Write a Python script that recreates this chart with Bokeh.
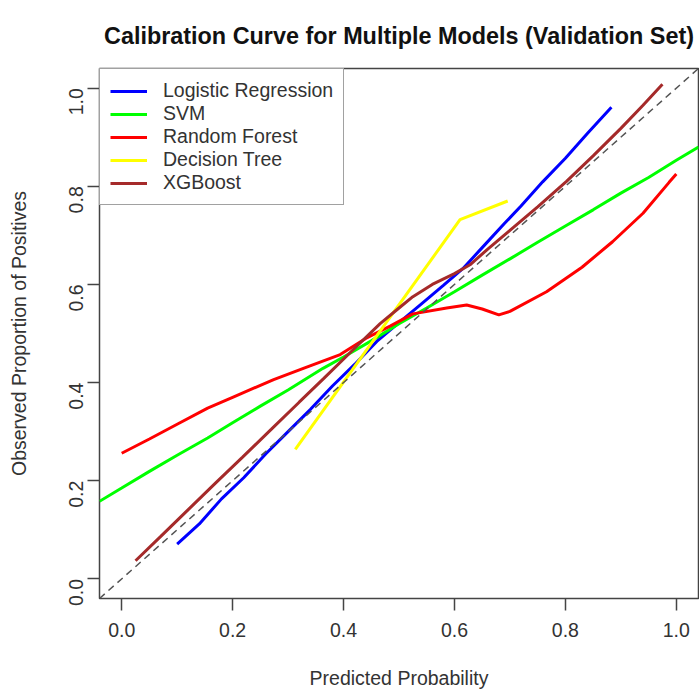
import math
from bokeh.plotting import figure
from bokeh.models import FixedTicker, PrintfTickFormatter, Slope, Legend, LegendItem
from bokeh.embed import file_html
from bokeh.resources import INLINE

# ---- data ----
lr_x = [0.10, 0.14, 0.18, 0.22, 0.26, 0.30, 0.34, 0.38, 0.42, 0.46, 0.50, 0.54, 0.58, 0.615, 0.65, 0.69, 0.72, 0.759, 0.80, 0.84, 0.883]
lr_y = [0.071, 0.112, 0.163, 0.206, 0.255, 0.300, 0.345, 0.393, 0.437, 0.484, 0.522, 0.560, 0.598, 0.632, 0.675, 0.724, 0.760, 0.809, 0.857, 0.908, 0.961]

svm_x = [-0.04, 0.0, 0.05, 0.10, 0.155, 0.20, 0.25, 0.30, 0.363, 0.40, 0.45, 0.50, 0.55, 0.60, 0.65, 0.70, 0.75, 0.80, 0.85, 0.90, 0.95, 1.0, 1.04]
svm_y = [0.158, 0.185, 0.219, 0.252, 0.287, 0.318, 0.352, 0.385, 0.429, 0.452, 0.485, 0.520, 0.552, 0.585, 0.619, 0.652, 0.686, 0.719, 0.752, 0.786, 0.818, 0.853, 0.880]

rf_x = [0.0, 0.05, 0.10, 0.155, 0.20, 0.274, 0.33, 0.394, 0.44, 0.484, 0.525, 0.586, 0.622, 0.65, 0.68, 0.70, 0.766, 0.83, 0.885, 0.94, 0.987, 1.0]
rf_y = [0.256, 0.285, 0.315, 0.348, 0.370, 0.406, 0.430, 0.457, 0.490, 0.515, 0.540, 0.552, 0.558, 0.550, 0.538, 0.545, 0.585, 0.635, 0.687, 0.745, 0.808, 0.825]

dt_x = [0.313, 0.61, 0.696]
dt_y = [0.264, 0.732, 0.770]

xgb_x = [0.025, 0.07, 0.12, 0.17, 0.218, 0.27, 0.32, 0.364, 0.42, 0.466, 0.50, 0.525, 0.56, 0.60, 0.628, 0.66, 0.70, 0.75, 0.802, 0.85, 0.90, 0.94, 0.975]
xgb_y = [0.037, 0.086, 0.141, 0.196, 0.248, 0.305, 0.360, 0.408, 0.470, 0.520, 0.552, 0.575, 0.600, 0.622, 0.640, 0.672, 0.710, 0.758, 0.810, 0.862, 0.918, 0.965, 1.008]

series = [
    ("Logistic Regression", lr_x, lr_y, "#0000FF"),
    ("SVM", svm_x, svm_y, "#00FF00"),
    ("Random Forest", rf_x, rf_y, "#FF0000"),
    ("Decision Tree", dt_x, dt_y, "#FFFF00"),
    ("XGBoost", xgb_x, xgb_y, "#A52A2A"),
]
ticks = [0.0, 0.2, 0.4, 0.6, 0.8, 1.0]

FONT = "Liberation Sans"
BASE = "19.5px"

p = figure(width=699, height=692, x_range=(-0.04, 1.04), y_range=(-0.04, 1.04),
           output_backend="svg", toolbar_location=None,
           min_border_left=99, min_border_right=1, min_border_top=67, min_border_bottom=94,
           title="Calibration Curve for Multiple Models (Validation Set)")
p.title.text_font = FONT
p.title.text_font_size = "23.4px"
p.title.text_font_style = "bold"
p.title.text_color = "#111111"
p.title.align = "center"
p.title.text_line_height = 0.75
p.title.standoff = 40

p.grid.visible = False
p.outline_line_color = "#444444"
p.outline_line_width = 1.5
p.background_fill_color = "white"
p.border_fill_color = "white"

for ax in (p.xaxis[0], p.yaxis[0]):
    ax.ticker = FixedTicker(ticks=ticks)
    ax.formatter = PrintfTickFormatter(format="%.1f")
    ax.axis_line_color = None
    ax.major_tick_out = 12
    ax.major_tick_in = 0
    ax.minor_tick_line_color = None
    ax.major_tick_line_color = "#444444"
    ax.major_tick_line_width = 1.5
    ax.major_label_text_font = FONT
    ax.major_label_text_font_size = BASE
    ax.major_label_text_color = "#333333"
    ax.axis_label_text_font = FONT
    ax.axis_label_text_font_size = BASE
    ax.axis_label_text_font_style = "normal"
    ax.axis_label_text_color = "#333333"

p.xaxis.axis_label = "Predicted Probability"
p.xaxis.major_label_standoff = 12
p.xaxis.axis_label_standoff = 27
p.yaxis.axis_label = "Observed Proportion of Positives"
p.yaxis.major_label_orientation = math.pi / 2
p.yaxis.major_label_standoff = 11
p.yaxis.axis_label_standoff = 30

p.add_layout(Slope(gradient=1, y_intercept=0, line_color="#555555", line_width=1.5, line_dash="7 5"))

items = []
for name, xs, ys, col in series:
    r = p.line(xs, ys, line_color=col, line_width=3)
    items.append(LegendItem(label=name, renderers=[r]))

legend = Legend(items=items, location="top_left", margin=0, padding=10, spacing=0,
                glyph_width=37, glyph_height=18, label_height=18, label_standoff=16,
                label_text_font=FONT, label_text_font_size=BASE, label_text_color="#333333",
                border_line_color="#444444", border_line_width=1.5,
                background_fill_alpha=1.0)
p.add_layout(legend)

open("out.html", "w").write(file_html(p, INLINE))
